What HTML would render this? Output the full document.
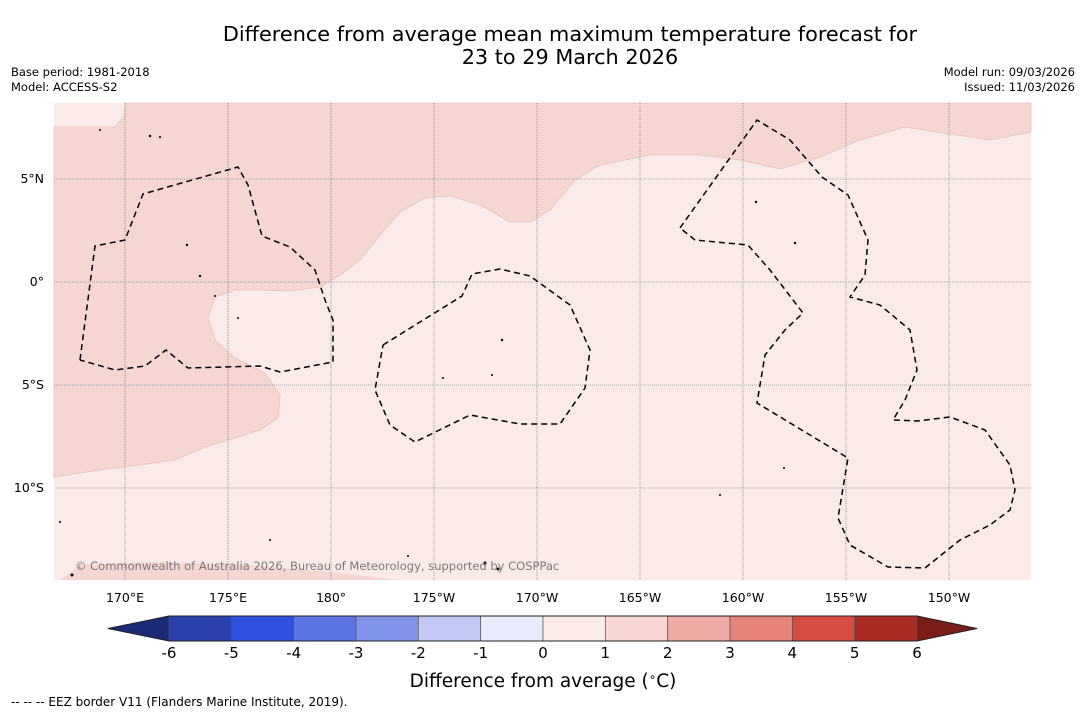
<!DOCTYPE html>
<html><head><meta charset="utf-8"><style>
body{margin:0;background:#fff;width:1085px;height:713px;overflow:hidden;font-family:"DejaVu Sans","Liberation Sans",sans-serif}
</style></head><body>
<svg width="1085" height="713" xmlns="http://www.w3.org/2000/svg" font-family="DejaVu Sans, Liberation Sans, sans-serif">
<text x="570" y="41" font-size="20.8" text-anchor="middle">Difference from average mean maximum temperature forecast for</text>
<text x="570" y="64" font-size="20.8" text-anchor="middle">23 to 29 March 2026</text>
<text x="11" y="76" font-size="11.5">Base period: 1981-2018</text>
<text x="11" y="91" font-size="11.5">Model: ACCESS-S2</text>
<text x="1075" y="76" font-size="11.5" text-anchor="end">Model run: 09/03/2026</text>
<text x="1075" y="91" font-size="11.5" text-anchor="end">Issued: 11/03/2026</text>
<g>
<rect x="54" y="103" width="977" height="477" fill="#fbebe8"/>
<path fill="#f5d6d3" stroke="#e9c2be" stroke-width="0.8" d="M54,127 L115,127 L125,115 L125,103 L1031,103 L1031,132 L990,140 L950,134 L905,127 L860,140 L820,157 L780,169 L740,160 L700,155 L650,155 L600,165 L575,180 L550,210 L530,222 L510,222 L480,205 L450,196 L425,198 L400,212 L380,235 L360,260 L340,275 L320,287 L290,291 L260,290 L235,290 L215,297 L208,318 L215,340 L235,358 L265,373 L280,395 L278,418 L260,430 L235,438 L205,447 L175,460 L140,465 L100,470 L54,477 Z"/>
<path fill="#f5d6d3" d="M60,580 L80,565 L150,562 L250,565 L330,572 L400,580 Z"/>
<g stroke="#666" stroke-width="0.6" stroke-dasharray="1,1">
<line x1="125" y1="103" x2="125" y2="580"/><line x1="228" y1="103" x2="228" y2="580"/><line x1="331" y1="103" x2="331" y2="580"/><line x1="434" y1="103" x2="434" y2="580"/><line x1="537" y1="103" x2="537" y2="580"/><line x1="640" y1="103" x2="640" y2="580"/><line x1="743" y1="103" x2="743" y2="580"/><line x1="846" y1="103" x2="846" y2="580"/><line x1="949" y1="103" x2="949" y2="580"/>
<line x1="54" y1="179" x2="1031" y2="179"/><line x1="54" y1="282" x2="1031" y2="282"/><line x1="54" y1="385" x2="1031" y2="385"/><line x1="54" y1="488" x2="1031" y2="488"/>
</g>
<g fill="none" stroke="#000" stroke-width="1.5" stroke-dasharray="6,4">
<path d="M80,360 L95,246 L125,240 L143,194 L238,167 L248,185 L262,236 L290,247 L315,270 L325,300 L333,320 L333,362 L280,372 L260,366 L188,368 L166,350 L145,366 L115,370 L80,360"/>
<path d="M383,345 L462,296 L472,274 L500,269 L530,276 L570,305 L590,350 L585,388 L560,424 L520,424 L470,415 L415,442 L390,425 L375,390 L383,345"/>
<path d="M680,228 L757,120 L790,140 L822,177 L848,195 L868,240 L865,275 L850,297 L880,305 L910,330 L917,370 L905,400 L893,420 L918,421 L950,417 L985,430 L1010,465 L1015,490 L1010,510 L990,525 L960,540 L925,568 L888,567 L850,545 L838,518 L848,458 L757,403 L765,355 L785,330 L803,313 L770,270 L748,245 L695,240 L680,228"/>
</g>
<g fill="#000">
<circle cx="100" cy="130" r="1"/><circle cx="150" cy="136" r="1.2"/><circle cx="160" cy="137" r="1"/><circle cx="187" cy="245" r="1.2"/><circle cx="200" cy="276" r="1.2"/><circle cx="215" cy="296" r="1"/><circle cx="238" cy="318" r="1"/><circle cx="502" cy="340" r="1.2"/><circle cx="492" cy="375" r="1"/><circle cx="443" cy="378" r="1"/><circle cx="756" cy="202" r="1.2"/><circle cx="795" cy="243" r="1.2"/><circle cx="784" cy="468" r="1"/><circle cx="720" cy="495" r="1"/><circle cx="485" cy="563" r="1.5"/><circle cx="498" cy="569" r="1.5"/><circle cx="60" cy="522" r="1"/><circle cx="72" cy="575" r="1.5"/><circle cx="270" cy="540" r="1"/><circle cx="408" cy="556" r="1"/>
</g>
<text x="75" y="570" font-size="11.5" fill="#666" opacity="0.85">© Commonwealth of Australia 2026, Bureau of Meteorology, supported by COSPPac</text>
<g font-size="12.5" text-anchor="middle">
<text x="125" y="602">170°E</text><text x="228" y="602">175°E</text><text x="331" y="602">180°</text><text x="434" y="602">175°W</text><text x="537" y="602">170°W</text><text x="640" y="602">165°W</text><text x="743" y="602">160°W</text><text x="846" y="602">155°W</text><text x="949" y="602">150°W</text>
</g>
<g font-size="12.5" text-anchor="end">
<text x="44" y="183">5°N</text><text x="44" y="286">0°</text><text x="44" y="389">5°S</text><text x="44" y="492">10°S</text>
</g>
</g>
<g id="cbar"></g>
<text x="543" y="687" font-size="18.5" text-anchor="middle">Difference from average (<tspan font-size="12" dy="-6">∘</tspan><tspan dy="6">C)</tspan></text>
<text x="11" y="706" font-size="12">--  --  -- EEZ border V11 (Flanders Marine Institute, 2019).</text>
</svg>
<script>
const ticks=[-6,-5,-4,-3,-2,-1,0,1,2,3,4,5,6];
const colors=["#2a40ad","#3050df","#5b73e3","#8294ea","#c3c9f4","#eaebfa","#fbebe8","#f5d6d3","#ecaca5","#e6837b","#d84b42","#ab2b25"];
const lowColor="#1b2a78", highColor="#7a1d18";
const g=document.getElementById('cbar');
const NS="http://www.w3.org/2000/svg";
const x0=169,x1=917,y0=616,y1=641;
const xs=v=>x0+(v-ticks[0])/(ticks[ticks.length-1]-ticks[0])*(x1-x0);
function mk(t,a){const e=document.createElementNS(NS,t);for(const k in a)e.setAttribute(k,a[k]);g.appendChild(e);return e;}
let lt=mk('polygon',{points:`108,${(y0+y1)/2} ${x0},${y0} ${x0},${y1}`,fill:lowColor});


let rt=mk('polygon',{points:`977,${(y0+y1)/2} ${x1},${y0} ${x1},${y1}`,fill:highColor});


colors.forEach((c,i)=>{
 const r=mk('rect',{x:xs(ticks[i]),y:y0,width:xs(ticks[i+1])-xs(ticks[i]),height:y1-y0,fill:c,stroke:'#555','stroke-width':0.7});
 
 
});
const ol=mk('polygon',{points:`108,${(y0+y1)/2} ${x0},${y0} ${x1},${y0} 977,${(y0+y1)/2} ${x1},${y1} ${x0},${y1}`,fill:'none',stroke:'#222','stroke-width':1});


ticks.forEach(v=>{
 const t=mk('text',{x:xs(v),y:658,'font-size':15,'text-anchor':'middle'});
 t.textContent=v;
 
 
});
</script>
</body></html>
